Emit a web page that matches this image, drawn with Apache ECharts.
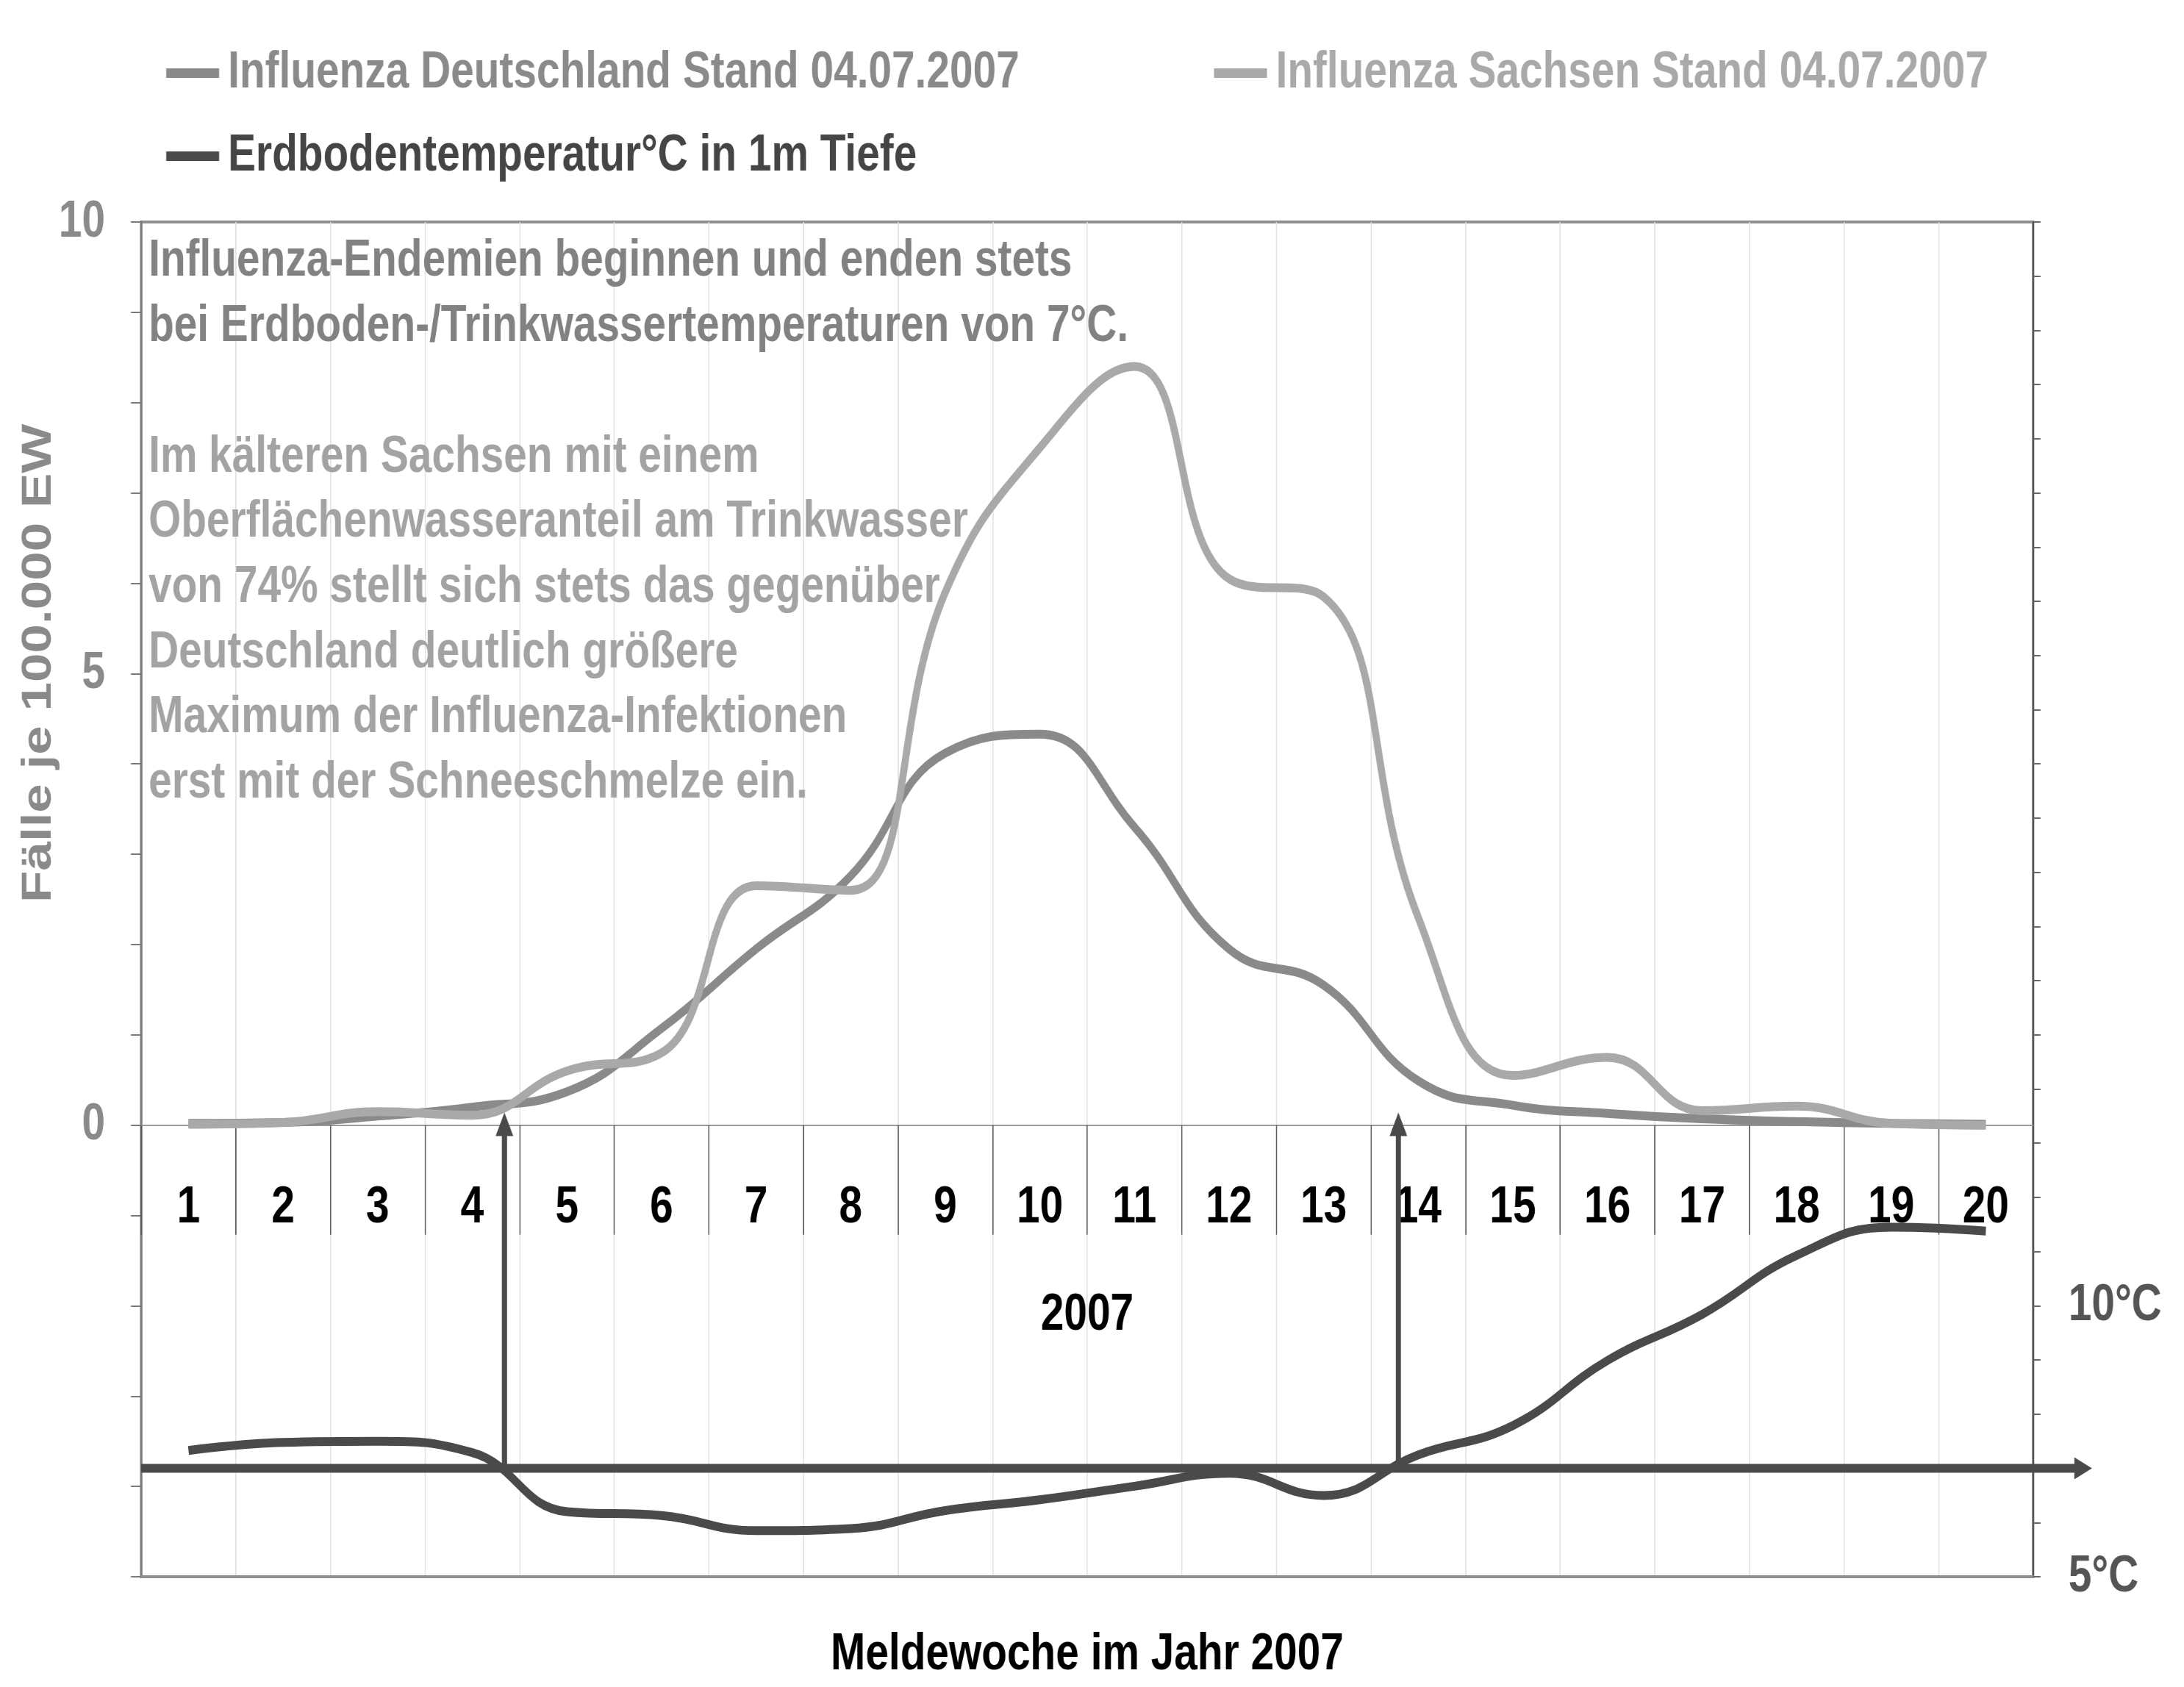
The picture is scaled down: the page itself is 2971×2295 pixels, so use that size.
<!DOCTYPE html>
<html>
<head>
<meta charset="utf-8">
<script src="https://cdn.jsdelivr.net/npm/echarts@6/dist/echarts.min.js"></script>
<style>
  html, body { margin: 0; padding: 0; background: #ffffff; overflow: hidden; width: 2971px; height: 2295px; }
  #chart { height: 2295px; transform-origin: 0 0; }
</style>
</head>
<body>
<div id="chart"></div>
<script>
// ---------------- data ----------------
const weeks = ['1','2','3','4','5','6','7','8','9','10','11','12','13','14','15','16','17','18','19','20'];
const seriesNames = [
  'Influenza Deutschland Stand 04.07.2007',
  'Influenza Sachsen Stand 04.07.2007',
  'Erdbodentemperatur°C in 1m Tiefe'
];
const influenzaDeutschland = [0.02, 0.03, 0.10, 0.20, 0.37, 1.07, 1.95, 2.76, 4.12, 4.33, 3.30, 1.95, 1.55, 0.49, 0.22, 0.13, 0.07, 0.04, 0.02, 0.01];
const influenzaSachsen     = [0.01, 0.03, 0.15, 0.11, 0.60, 0.80, 2.65, 2.60, 5.90, 7.50, 8.40, 6.05, 5.85, 2.30, 0.55, 0.75, 0.16, 0.21, 0.02, 0.00];
const bodenTemperatur      = [7.33, 7.48, 7.50, 7.29, 6.20, 6.13, 5.85, 5.89, 6.22, 6.42, 6.67, 6.91, 6.50, 7.25, 7.79, 8.99, 9.84, 10.93, 11.45, 11.38];
const leftTickLabels  = [0, 5, 10];
const rightTickLabels = [5, 10];
const thresholdTemp = 7;           // °C line
const arrowWeeks = [4.34, 13.79];  // where the temperature crosses 7 °C
const arrowTopValue = 0.14;        // arrow tip height on the influenza axis
const xName = 'Meldewoche im Jahr 2007';
const yearLabel = '2007';
const yName = 'Fälle je 100.000 EW';
const noteTop = [
  'Influenza-Endemien beginnen und enden stets',
  'bei Erdboden-/Trinkwassertemperaturen von 7°C.'
];
const noteBottom = [
  'Im kälteren Sachsen mit einem',
  'Oberflächenwasseranteil am Trinkwasser',
  'von 74% stellt sich stets das gegenüber',
  'Deutschland deutlich größere',
  'Maximum der Influenza-Infektionen',
  'erst mit der Schneeschmelze ein.'
];

// ---------------- styles / layout ----------------
// The original artwork is horizontally condensed; the chart is drawn on a wider
// canvas and condensed by K so that text and marks keep that look.
const K = 0.8;
const W = 2971 / K, H = 2295;
const h = v => v / K;   // horizontal pixel helper (layout only)
const FONT = "'Liberation Sans', Arial, sans-serif";
const cDe = '#8a8a8a', cSa = '#a9a9a9', cT = '#4a4a4a';
const FS = 71;
const LW = 12;

const el = document.getElementById('chart');
el.style.width = W + 'px';
el.style.transform = 'scaleX(' + K + ')';
const chart = echarts.init(el, null, { renderer: 'canvas', width: W, height: H });

function legendItem(name, left, top, color) {
  return {
    data: [name], left: left, top: top, orient: 'horizontal',
    icon: 'rect', itemWidth: h(72), itemHeight: 13, selectedMode: false,
    textStyle: { color: color, fontSize: FS, fontWeight: 'bold', fontFamily: FONT, padding: [0, 0, 0, h(8)] }
  };
}

const txt = (color) => ({ color: color, fontSize: FS, fontWeight: 'bold', fontFamily: FONT });

const option = {
  animation: false,
  backgroundColor: '#ffffff',
  legend: [
    legendItem(seriesNames[0], h(222), 59, cDe),
    legendItem(seriesNames[1], h(1647), 59, cSa),
    legendItem(seriesNames[2], h(222), 172, '#454545')
  ],
  grid: { left: h(192), right: h(206), top: 302, bottom: 150, containLabel: false, outerBoundsMode: 'none',
    show: true, borderColor: '#8f8f8f', borderWidth: 4, backgroundColor: 'transparent' },
  xAxis: [
    {
      type: 'category', data: weeks, boundaryGap: true, position: 'bottom', offset: 0,
      axisLine: { onZero: false, lineStyle: { color: '#9a9a9a', width: 2 } },
      axisTick: { show: true, interval: 0, length: 149, lineStyle: { color: '#555', width: h(1.5) } },
      axisLabel: Object.assign({ interval: 0, margin: 77 }, txt('#000')),
      splitLine: { show: true, interval: 0, lineStyle: { color: '#e2e2e2', width: h(1.5) } },
      name: yearLabel, nameLocation: 'middle', nameGap: 223,
      nameTextStyle: txt('#000')
    },
    {
      type: 'category', data: weeks, boundaryGap: true, position: 'bottom',
      axisLine: { onZero: false, lineStyle: { color: '#8f8f8f', width: 4 } },
      axisTick: { show: false }, axisLabel: { show: false }, splitLine: { show: false },
      name: xName, nameLocation: 'middle', nameGap: 71,
      nameTextStyle: txt('#000')
    }
  ],
  yAxis: [
    {
      type: 'value', position: 'left', min: -5, max: 10, interval: 1,
      axisLine: { show: true, onZero: false, lineStyle: { color: '#7a7a7a', width: h(3) } },
      axisTick: { show: true, inside: false, length: h(14), lineStyle: { color: '#7a7a7a', width: 2 } },
      axisLabel: Object.assign({
        margin: h(49),
        formatter: v => leftTickLabels.indexOf(v) >= 0 ? String(v) : ''
      }, txt('#8a8a8a')),
      splitLine: { show: false }
    },
    {
      type: 'value', position: 'right', min: 5, max: 30, interval: 1,
      axisLine: { show: true, onZero: false, lineStyle: { color: '#555', width: h(2.5) } },
      axisTick: { show: true, inside: false, length: h(10), lineStyle: { color: '#666', width: 2 } },
      axisLabel: Object.assign({
        margin: h(48),
        formatter: v => rightTickLabels.indexOf(v) >= 0 ? v + '°C' : ''
      }, txt('#555')),
      splitLine: { show: false }
    }
  ],
  series: [
    {
      name: seriesNames[0], type: 'line', xAxisIndex: 0, yAxisIndex: 0, data: influenzaDeutschland,
      smooth: 0.45, symbol: 'none', lineStyle: { color: cDe, width: LW }, itemStyle: { color: cDe }, z: 3
    },
    {
      name: seriesNames[1], type: 'line', xAxisIndex: 0, yAxisIndex: 0, data: influenzaSachsen,
      smooth: 0.45, symbol: 'none', lineStyle: { color: cSa, width: LW }, itemStyle: { color: cSa }, z: 4
    },
    {
      name: seriesNames[2], type: 'line', xAxisIndex: 0, yAxisIndex: 1, data: bodenTemperatur,
      smooth: 0.45, symbol: 'none', lineStyle: { color: cT, width: LW }, itemStyle: { color: cT }, z: 5
    }
  ]
};
chart.setOption(option);

// move the week axis up to the zero line of the influenza axis
(function () {
  const yZero = chart.convertToPixel({ yAxisIndex: 0 }, 0);
  const yMin = chart.convertToPixel({ yAxisIndex: 0 }, -5);
  chart.setOption({ xAxis: [{ offset: yZero - yMin }, {}] });
})();

// ------------- overlays positioned through the axes -------------
function overlays() {
  const xa = chart.convertToPixel({ xAxisIndex: 0 }, weeks[0]);
  const xb = chart.convertToPixel({ xAxisIndex: 0 }, weeks[1]);
  const step = xb - xa;
  const weekX = w => xa + step * (w - 1);
  const gridLeft = xa - step / 2;
  const gridRight = weekX(weeks.length) + step / 2;
  const y7 = chart.convertToPixel({ yAxisIndex: 1 }, thresholdTemp);
  const yTip = chart.convertToPixel({ yAxisIndex: 0 }, arrowTopValue);
  const yTop = chart.convertToPixel({ yAxisIndex: 0 }, 10);
  const y5 = chart.convertToPixel({ yAxisIndex: 0 }, 5);

  const g = [];
  // notes (drawn below the curves)
  g.push({
    type: 'text', z: 0,
    style: { x: gridLeft + h(10), y: yTop + 9, text: noteTop.join('\n'), fill: '#828282',
      fontSize: FS, fontWeight: 'bold', fontFamily: FONT, lineHeight: 89, verticalAlign: 'top' }
  });
  g.push({
    type: 'text', z: 0,
    style: { x: gridLeft + h(10), y: yTop + 276, text: noteBottom.join('\n'), fill: '#a3a3a3',
      fontSize: FS, fontWeight: 'bold', fontFamily: FONT, lineHeight: 88.6, verticalAlign: 'top' }
  });
  // y axis title (rotated)
  g.push({
    type: 'text', z: 1, x: h(53), y: y5 - 14, rotation: Math.PI / 2,
    style: { x: 0, y: 0, text: yName, fill: '#8a8a8a', fontSize: FS, fontWeight: 'bold',
      fontFamily: FONT, align: 'center', verticalAlign: 'middle' }
  });
  // 7 °C horizontal arrow
  const tipX = gridRight + h(80);
  g.push({ type: 'line', z: 20, shape: { x1: gridLeft, y1: y7, x2: tipX - h(20), y2: y7 },
    style: { stroke: cT, lineWidth: LW } });
  g.push({ type: 'polygon', z: 20, shape: { points: [[tipX - h(24), y7 - 15], [tipX, y7], [tipX - h(24), y7 + 15]] },
    style: { fill: cT } });
  // vertical arrows
  arrowWeeks.forEach(w => {
    const x = weekX(w);
    g.push({ type: 'line', z: 20, shape: { x1: x, y1: y7, x2: x, y2: yTip + 26 },
      style: { stroke: cT, lineWidth: h(7) } });
    g.push({ type: 'polygon', z: 20, shape: { points: [[x - h(12), yTip + 32], [x, yTip], [x + h(12), yTip + 32]] },
      style: { fill: cT } });
  });
  chart.setOption({ graphic: g });
}
overlays();
</script>
</body>
</html>
